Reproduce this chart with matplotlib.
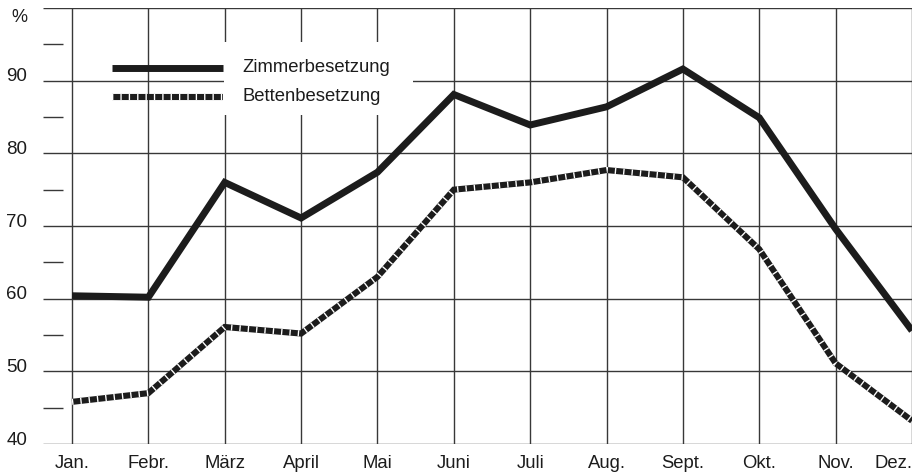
import numpy as np
import matplotlib
matplotlib.use("Agg")
import matplotlib.pyplot as plt
from matplotlib.patches import Rectangle
from matplotlib.lines import Line2D

# Monatliche Auslastung (in %)
months = ["Jan.", "Febr.", "März", "April", "Mai", "Juni",
          "Juli", "Aug.", "Sept.", "Okt.", "Nov.", "Dez."]
zimmer = [60.4, 60.2, 76.0, 71.1, 77.4, 88.1, 83.9, 86.4, 91.6, 84.9, 69.6, 55.6]
betten = [45.8, 47.0, 56.1, 55.2, 63.0, 75.0, 76.0, 77.7, 76.7, 66.8, 51.1, 43.2]

y_major = [40, 50, 60, 70, 80, 90, 100]
y_labels = ["40", "50", "60", "70", "80", "90", ""]
y_minor = [45, 55, 65, 75, 85, 95]

plt.rcParams['font.family'] = ['Liberation Sans', 'DejaVu Sans']

INK = "#1c1c1c"
GRID = "#383838"
HATCH = (0, (0.22, 1.15))

fig = plt.figure(figsize=(9.22, 4.75), dpi=100)
ax = fig.add_axes([43 / 922, 31 / 475, 869 / 922, 436 / 475])

x = np.arange(len(months))
x_left = -29 / 76.36
ax.set_xlim(x_left, len(months) - 1)
ax.set_ylim(40, 100)
for s in ax.spines.values():
    s.set_visible(False)

# Raster
ax.hlines(y_major, x_left, x[-1], color=GRID, lw=1.0, zorder=1)
ax.vlines(x, 40, 100, color=GRID, lw=1.0, zorder=1)
ax.hlines(y_minor, x_left, x_left + 20 / 76.36, color=GRID, lw=1.0, zorder=1)

# Zimmerbesetzung: dicke schwarze Linie
ax.plot(x, zimmer, color=INK, lw=5.0, solid_joinstyle="miter",
        solid_capstyle="butt", zorder=3)

# Bettenbesetzung: schwarze Linie mit weissen Schraffen
def hatched(xs, ys, lw=4.4, **kw):
    ax.plot(xs, ys, color=INK, lw=lw, solid_joinstyle="miter",
            solid_capstyle="butt", zorder=3, **kw)
    ax.plot(xs, ys, color="white", lw=lw, linestyle=HATCH,
            dash_capstyle="butt", zorder=4, **kw)

hatched(x, betten)

# Legende (weisses Feld ueber dem Raster)
ax.add_patch(Rectangle((0.2078, 0.755), 0.2185, 0.167, transform=ax.transAxes,
                       facecolor="white", edgecolor="none", zorder=2))
ax.add_line(Line2D([0.0794, 0.2071], [0.862, 0.862], transform=ax.transAxes,
                   color=INK, lw=5.0, solid_capstyle="butt", zorder=3))
ax.add_line(Line2D([0.0794, 0.2071], [0.796, 0.796], transform=ax.transAxes,
                   color=INK, lw=4.4, solid_capstyle="butt", zorder=3))
ax.add_line(Line2D([0.0794, 0.2071], [0.796, 0.796], transform=ax.transAxes,
                   color="white", lw=4.4, linestyle=HATCH,
                   dash_capstyle="butt", zorder=4))
ax.text(0.230, 0.864, "Zimmerbesetzung", transform=ax.transAxes,
        fontsize=13.3, va="center", ha="left", color=INK, zorder=5)
ax.text(0.230, 0.798, "Bettenbesetzung", transform=ax.transAxes,
        fontsize=13.3, va="center", ha="left", color=INK, zorder=5)

# Achsenbeschriftung
ax.set_yticks([])
for v, lab in zip(y_major, y_labels):
    ax.text(-0.0184, (v - 40) / 60 + 0.009, lab, transform=ax.transAxes,
            fontsize=13.5, ha="right", va="center", color=INK)
ax.text(-0.0184, 0.978, "%", transform=ax.transAxes,
        fontsize=13, ha="right", va="center", color=INK)

ax.set_xticks(x)
ax.set_xticklabels(months, fontsize=13.3, color=INK)
ax.tick_params(axis="x", length=0, pad=8)
ax.get_xticklabels()[-1].set_horizontalalignment("right")
ax.get_xticklabels()[-1].set_x(x[-1])

fig.savefig("out.png", dpi=100)
